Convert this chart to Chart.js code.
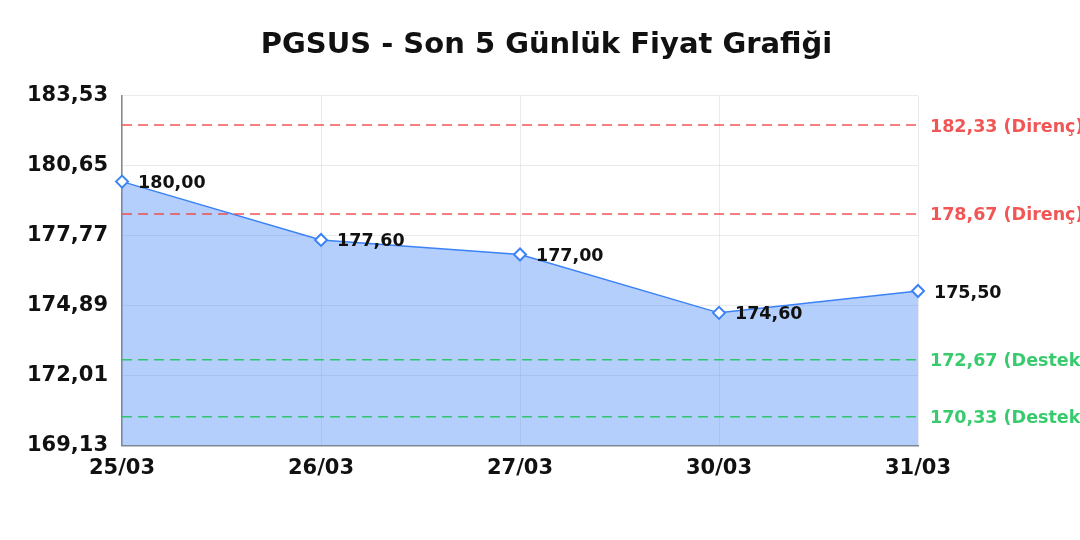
<!DOCTYPE html>
<html>
<head>
<meta charset="utf-8">
<script src="https://cdn.jsdelivr.net/npm/chart.js@4/dist/chart.umd.min.js"></script>
<style>
  html, body { margin: 0; padding: 0; background: #fff; }
  #wrap { width: 1080px; height: 540px; }
</style>
</head>
<body>
<div id="wrap"><canvas id="priceChart" width="1080" height="540"></canvas></div>
<script>
// data
var days = ["25/03", "26/03", "27/03", "30/03", "31/03"];
var prices = [180.00, 177.60, 177.00, 174.60, 175.50];
var levelValues = [182.33, 178.67, 172.67, 170.33];
var levelNames = ["Direnç", "Direnç", "Destek", "Destek"];
var yMin = 169.13;
var yMax = 183.53;
var yStep = 2.88;

var FONT = "'DejaVu Sans', Verdana, sans-serif";

var fmt = function (v) {
    return v.toFixed(2).replace(".", ",");
};

var levelColor = function (name) {
    if (name == "Direnç")
        return "rgba(239, 68, 68, 0.9)";
    return "rgba(34, 197, 94, 0.9)";
};

var labelPlugin = {
    id: "priceLabels",
    afterDatasetsDraw: function (chart) {
        var ctx = chart.ctx;
        var area = chart.chartArea;
        var yScale = chart.scales.y;

        ctx.save();
        ctx.lineWidth = 1.5;
        ctx.setLineDash([10, 6]);
        for (var i = 0; i < levelValues.length; i++) {
            var y = yScale.getPixelForValue(levelValues[i]);
            ctx.strokeStyle = levelColor(levelNames[i]);
            ctx.beginPath();
            ctx.moveTo(area.left, y);
            ctx.lineTo(area.right, y);
            ctx.stroke();
        }
        ctx.setLineDash([]);
        ctx.font = "bold 17.5px " + FONT;
        ctx.textAlign = "left";
        ctx.textBaseline = "middle";
        for (var i = 0; i < levelValues.length; i++) {
            var y = yScale.getPixelForValue(levelValues[i]);
            ctx.fillStyle = levelColor(levelNames[i]);
            ctx.fillText(fmt(levelValues[i]) + " (" + levelNames[i] + ")", area.right + 12, y + 2);
        }

        // value next to each point
        var meta = chart.getDatasetMeta(0);
        ctx.fillStyle = "#111";
        for (var c = 0; c < meta.data.length; c++) {
            var pt = meta.data[c];
            ctx.fillText(fmt(prices[c]), pt.x + 16, pt.y + 2);
        }
        ctx.restore();
    }
};

var ctx = document.getElementById("priceChart").getContext("2d");
var chart = new Chart(ctx, {
    type: "line",
    data: {
        labels: days,
        datasets: [
            {
                label: "PGSUS",
                data: prices,
                yAxisID: "y",
                borderColor: "#3b82f6",
                backgroundColor: "rgba(59, 130, 246, 0.38)",
                borderWidth: 1.5,
                fill: "start",
                tension: 0,
                pointStyle: "rectRot",
                pointRadius: 6,
                pointBorderWidth: 2,
                pointBackgroundColor: "#fff",
                pointBorderColor: "#3b82f6"
            }
        ]
    },
    options: {
        responsive: false,
        animation: false,
        layout: { padding: { left: 13, right: 0, top: 0, bottom: 49 } },
        plugins: {
            legend: { display: false },
            tooltip: { enabled: false },
            title: {
                display: true,
                text: "PGSUS - Son 5 Günlük Fiyat Grafiği",
                color: "#111",
                font: { family: FONT, size: 29, weight: "bold" },
                padding: { top: 28, bottom: 33 }
            }
        },
        scales: {
            x: {
                offset: false,
                grid: { color: "rgba(0,0,0,0.08)", drawTicks: false },
                border: { color: "#888", width: 1.5 },
                ticks: {
                    color: "#111",
                    padding: 10,
                    maxRotation: 0,
                    font: { family: FONT, size: 21, weight: "bold" }
                }
            },
            y: {
                min: yMin,
                max: yMax,
                grid: { color: "rgba(0,0,0,0.08)", drawTicks: false },
                border: { color: "#888", width: 1.5 },
                afterBuildTicks: function (axis) {
                    var t = [];
                    for (var k = 0; k <= 5; k++)
                        t.push({ value: yMin + k * yStep });
                    axis.ticks = t;
                },
                ticks: {
                    color: "#111",
                    padding: 14,
                    font: { family: FONT, size: 21, weight: "bold" },
                    callback: function (v) { return fmt(v); }
                }
            },
            // empty room on the right for the level labels
            side: {
                position: "right",
                min: yMin,
                max: yMax,
                grid: { display: false },
                border: { display: false },
                ticks: { display: false },
                afterFit: function (axis) { axis.width = 162; }
            }
        }
    },
    plugins: [labelPlugin]
});
</script>
</body>
</html>
